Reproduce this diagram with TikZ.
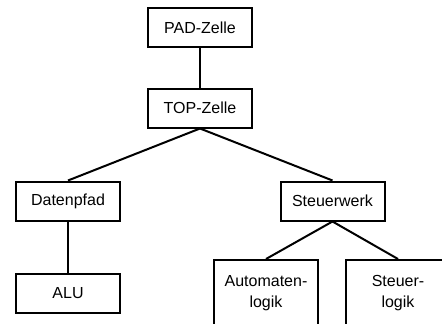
\documentclass[tikz,border=0pt]{standalone}
\usepackage{fontspec}
\setmainfont{Liberation Sans}
\begin{document}
\begin{tikzpicture}[x=1pt,y=-1pt,
    box/.style={draw, line width=2pt, minimum width=104pt, minimum height=39pt, inner sep=0pt, font=\fontsize{16}{21}\selectfont},
    tallbox/.style={box, minimum height=67pt, align=center, anchor=north},
    link/.style={line width=2pt}]
  \useasboundingbox (0,0) rectangle (442,324);
  \clip (0,0) rectangle (442,324);
  \node (pad) [box] at (200,27.5) {PAD-Zelle};
  \node (top) [box] at (200,108) {TOP-Zelle};
  \node (daten) [box] at (68,201) {Datenpfad};
  \node (steuerwerk) [box] at (332.5,201) {Steuerwerk};
  \node (alu) [box] at (68,293) {ALU};
  \node (automaten) [tallbox] at (266,259) {Automaten-\\logik};
  \node (steuerlogik) [tallbox] at (398,259) {Steuer-\\logik};
  \draw [link] (pad) -- (top);
  \draw [link] (top.south) -- (daten.north);
  \draw [link] (top.south) -- (steuerwerk.north);
  \draw [link] (daten) -- (alu);
  \draw [link] (steuerwerk.south) -- (automaten.north);
  \draw [link] (steuerwerk.south) -- (steuerlogik.north);
\end{tikzpicture}
\end{document}
